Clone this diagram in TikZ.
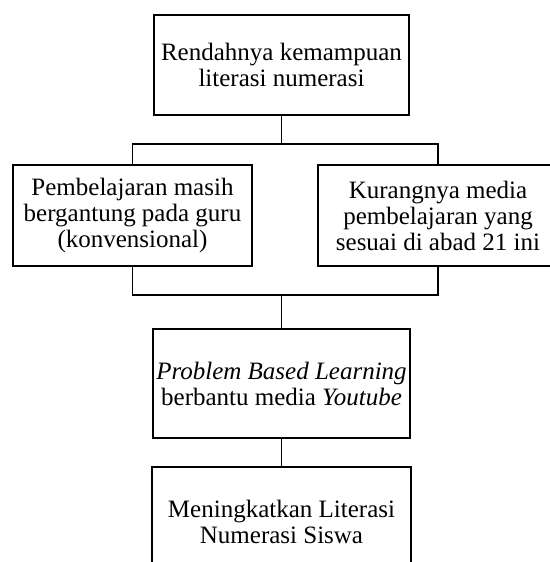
\documentclass[tikz,border=0pt]{standalone}
\usepackage{fontspec}
\setmainfont{Liberation Serif}
\tikzset{
  kotak/.style={draw=black,line width=1.3pt,align=center,inner sep=0pt,
    font=\fontsize{25}{26}\selectfont},
  garis/.style={draw=black,line width=1.3pt}
}
\begin{document}
\begin{tikzpicture}[x=1pt,y=-1pt]
   \useasboundingbox (0,0) rectangle (549,562);
   % kotak-kotak
   \node[kotak,minimum width=255pt,minimum height=100pt] (masalah) at (281.5,65)
     {Rendahnya kemampuan\\literasi numerasi};
   \node[kotak,minimum width=239pt,minimum height=101pt] (sebabA) at (132.5,215.5)
     {Pembelajaran masih\\bergantung pada guru\\(konvensional)};
   \node[kotak,minimum width=240pt,minimum height=101pt] (sebabB) at (438,215.5)
     {Kurangnya media\\pembelajaran yang\\sesuai di abad 21 ini};
   \node[kotak,minimum width=257pt,minimum height=109pt] (solusi) at (281.5,383.5)
     {\textit{Problem Based Learning}\\berbantu media \textit{Youtube}};
   \node[kotak,minimum width=259pt,minimum height=109pt] (tujuan) at (281.5,521.5)
     {Meningkatkan Literasi\\Numerasi Siswa};
   % garis penghubung
   \coordinate (atas) at (281.5,144);
   \coordinate (bawah) at (281.5,295);
   \draw[garis] (masalah.south) -- (atas);
   \draw[garis] (sebabA.north) |- (atas) -| (sebabB.north);
   \draw[garis] (sebabA.south) |- (bawah) -| (sebabB.south);
   \draw[garis] (bawah) -- (solusi.north);
   \draw[garis] (solusi.south) -- (tujuan.north);
\end{tikzpicture}
\end{document}
